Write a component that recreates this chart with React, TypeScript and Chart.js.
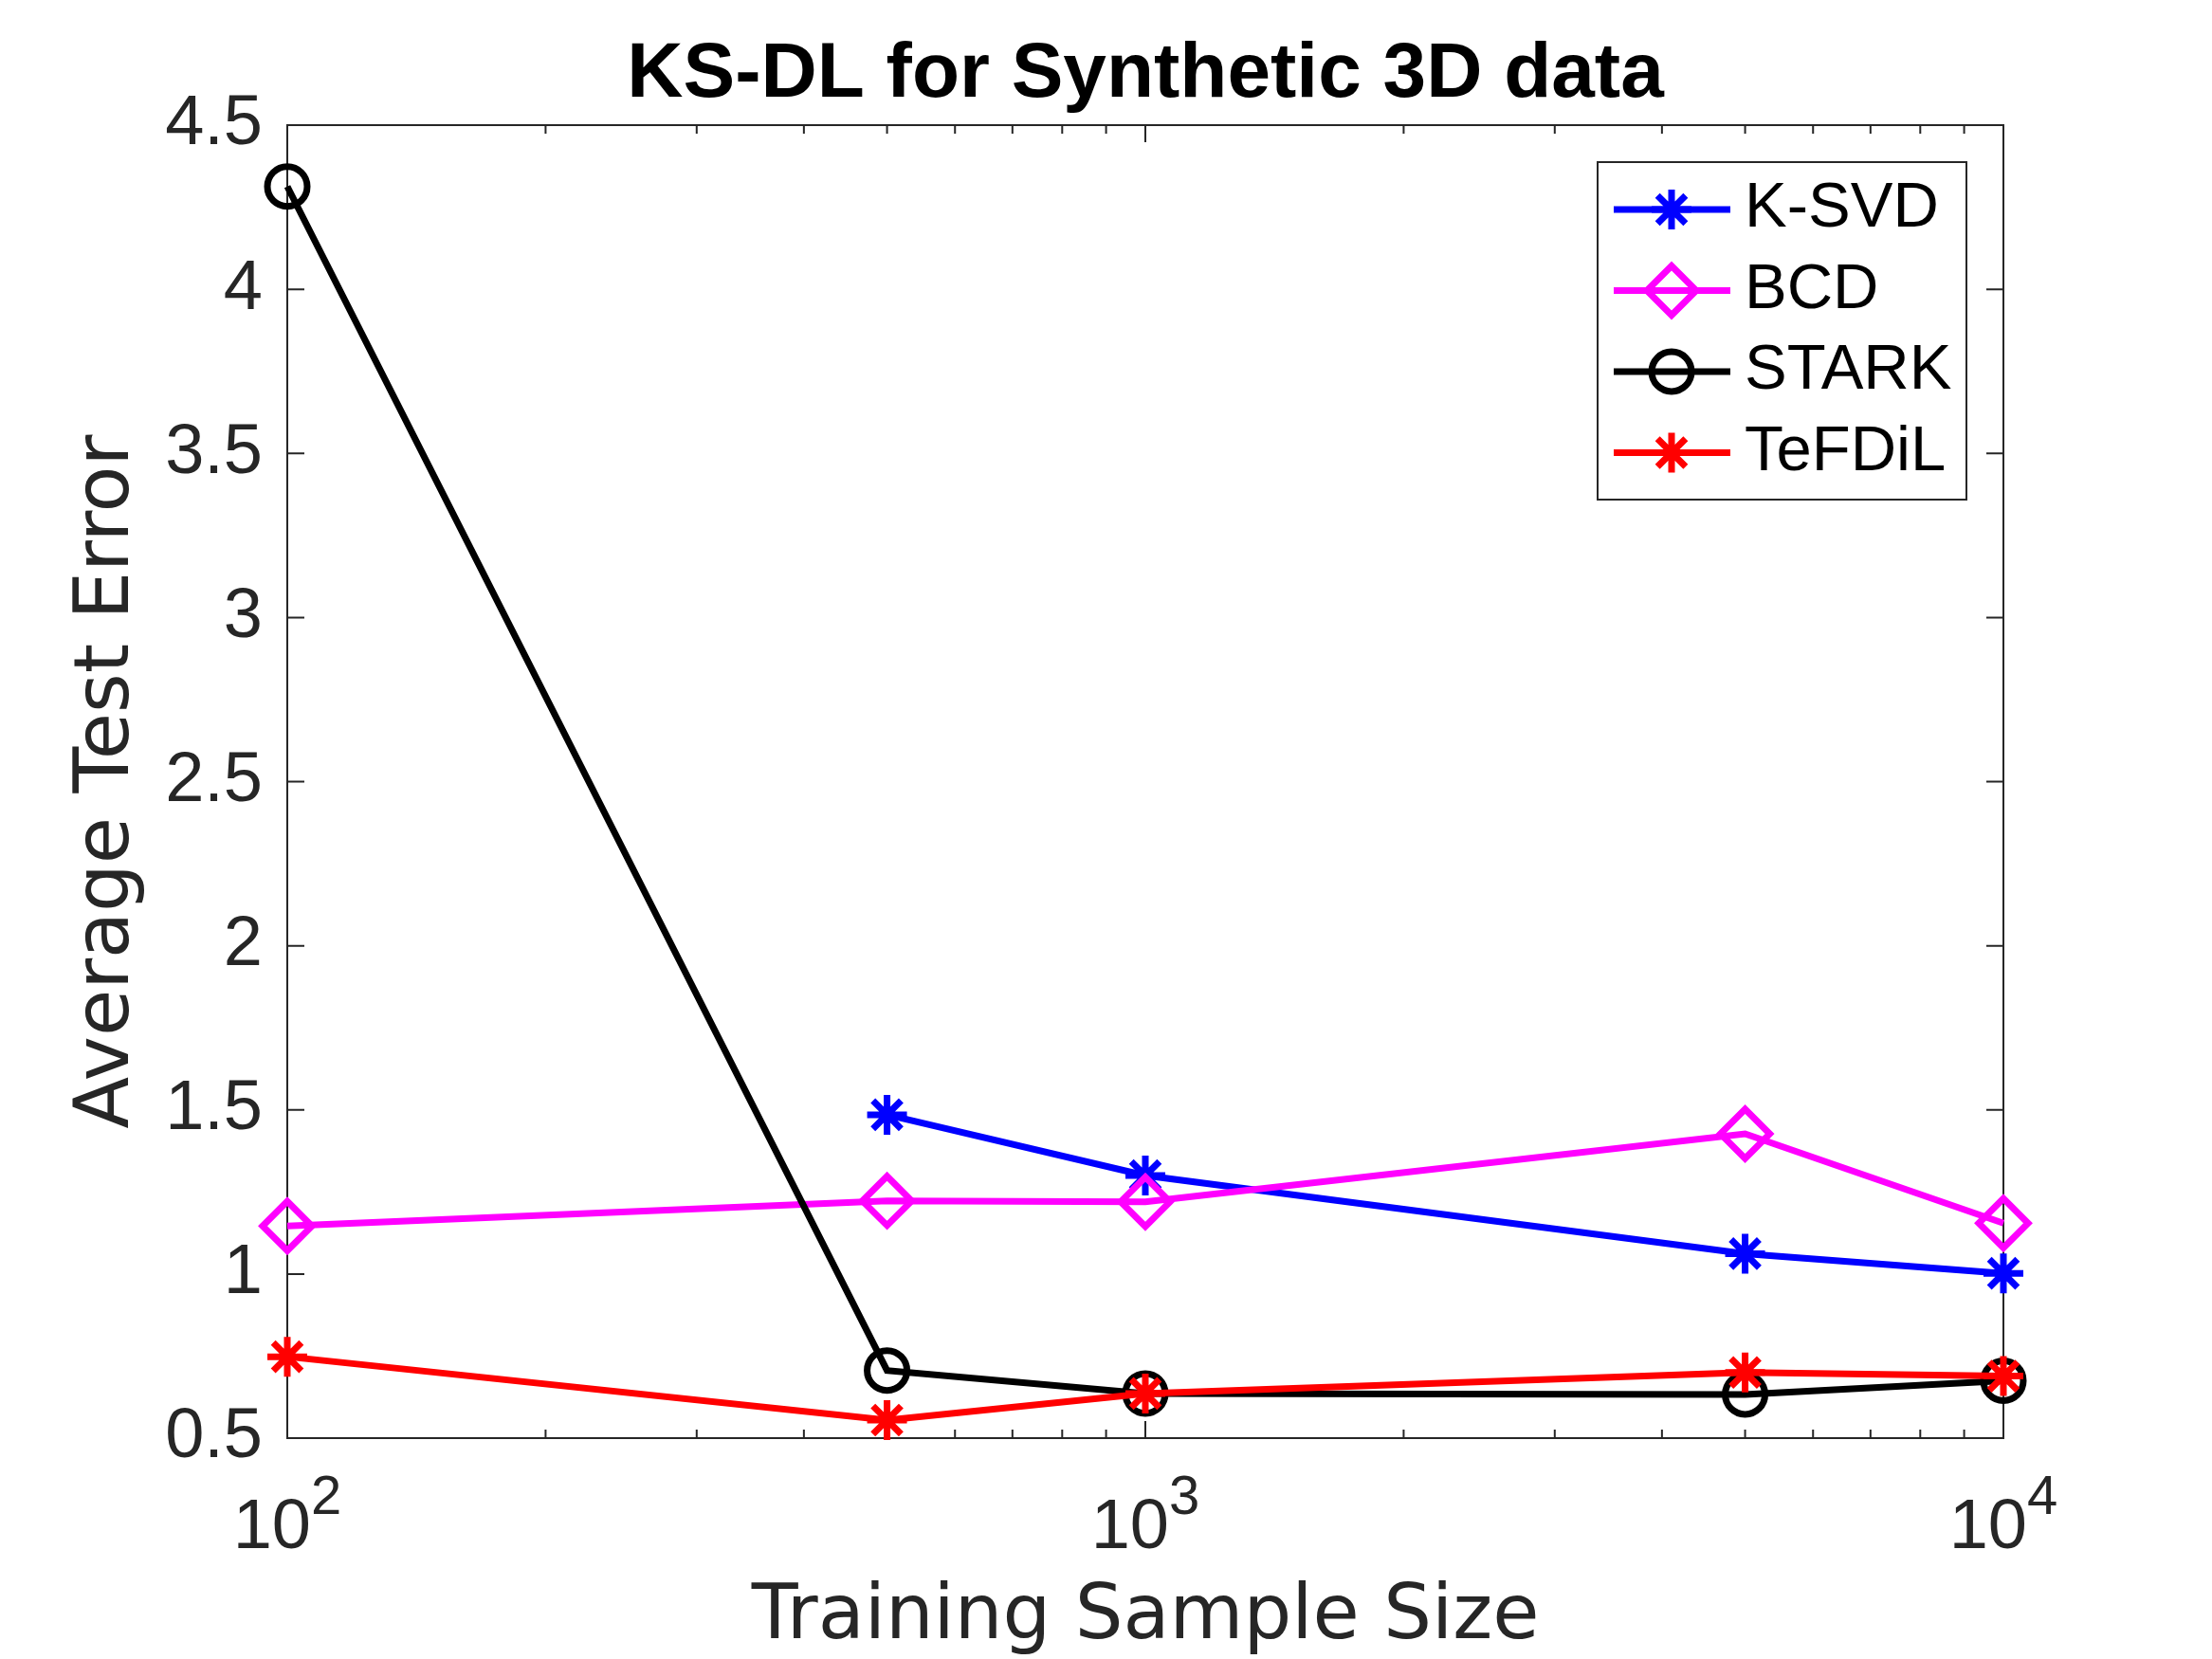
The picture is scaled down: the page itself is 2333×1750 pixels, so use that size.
import { useEffect, useRef } from "react";
import { Chart, registerables } from "chart.js";
import { drawPoint } from "chart.js/helpers";

Chart.register(...registerables);

const sampleSizes = [100, 500, 1000, 5000, 10000];
const ksvdError = [null, 1.485, 1.3, 1.062, 1.002];
const bcdError = [1.146, 1.223, 1.22, 1.427, 1.155];
const starkError = [4.313, 0.706, 0.636, 0.633, 0.675];
const tefdilError = [0.748, 0.555, 0.636, 0.7, 0.689];
const seriesLabels = ["K-SVD", "BCD", "STARK", "TeFDiL"];
const xTickExponents = [2, 3, 4];

const AXIS = "#262626";
const HELV = "'Liberation Sans', Arial, Helvetica, sans-serif";

const toPoints = (values: (number | null)[]) =>
  sampleSizes
    .map((x, i) => ({ x, y: values[i] }))
    .filter((p) => p.y !== null);

// box, inside ticks and 10^n labels, like a matlab axes
const framePlugin = {
  id: "matlabFrame",
  beforeDatasetsDraw(chart: any) {
    const { ctx, chartArea: a, scales } = chart;
    const xs = scales.x;
    const ys = scales.y;
    ctx.save();
    ctx.strokeStyle = AXIS;
    ctx.lineWidth = 2;
    ctx.strokeRect(a.left, a.top, a.right - a.left, a.bottom - a.top);

    ctx.beginPath();
    for (let e = xTickExponents[0]; e <= xTickExponents[xTickExponents.length - 1]; e++) {
      for (let k = 1; k <= 9; k++) {
        const v = k * Math.pow(10, e);
        if (v > xs.max) break;
        const px = xs.getPixelForValue(v);
        const len = k === 1 ? 18 : 9;
        ctx.moveTo(px, a.bottom);
        ctx.lineTo(px, a.bottom - len);
        ctx.moveTo(px, a.top);
        ctx.lineTo(px, a.top + len);
      }
    }
    for (const t of ys.ticks) {
      const py = ys.getPixelForValue(t.value);
      ctx.moveTo(a.left, py);
      ctx.lineTo(a.left + 18, py);
      ctx.moveTo(a.right, py);
      ctx.lineTo(a.right - 18, py);
    }
    ctx.stroke();

    ctx.fillStyle = AXIS;
    ctx.textBaseline = "alphabetic";
    ctx.textAlign = "left";
    for (const e of xTickExponents) {
      const px = xs.getPixelForValue(Math.pow(10, e));
      ctx.font = `74px ${HELV}`;
      const wBase = ctx.measureText("10").width;
      ctx.font = `58px ${HELV}`;
      const wExp = ctx.measureText(String(e)).width;
      const left = px - (wBase + wExp) / 2;
      ctx.font = `74px ${HELV}`;
      ctx.fillText("10", left, a.bottom + 116);
      ctx.font = `58px ${HELV}`;
      ctx.fillText(String(e), left + wBase, a.bottom + 80);
    }
    ctx.restore();
  },
  afterDatasetsDraw(chart: any) {
    const { ctx } = chart;
    const box = { left: 1685, top: 171, right: 2074, bottom: 527 };
    ctx.save();
    ctx.fillStyle = "#ffffff";
    ctx.fillRect(box.left, box.top, box.right - box.left, box.bottom - box.top);
    ctx.strokeStyle = AXIS;
    ctx.lineWidth = 2;
    ctx.strokeRect(box.left, box.top, box.right - box.left, box.bottom - box.top);
    chart.data.datasets.forEach((ds: any, i: number) => {
      const cy = 221 + i * 85.5;
      ctx.strokeStyle = ds.borderColor;
      ctx.lineWidth = ds.borderWidth;
      ctx.beginPath();
      ctx.moveTo(1702, cy);
      ctx.lineTo(1825, cy);
      ctx.stroke();
      ctx.fillStyle = "rgba(0,0,0,0)";
      ctx.lineWidth = ds.pointBorderWidth;
      drawPoint(
        ctx,
        { pointStyle: ds.pointStyle, radius: ds.pointRadius, rotation: 0, borderWidth: ds.pointBorderWidth } as any,
        1763,
        cy
      );
      ctx.fillStyle = "#000000";
      ctx.font = `67px ${HELV}`;
      ctx.textAlign = "left";
      ctx.textBaseline = "middle";
      ctx.fillText(ds.label, 1840, cy);
    });
    ctx.restore();
  },
};

const series = (label: string, values: (number | null)[], color: string, style: string, radius: number, order: number) => ({
  label,
  data: toPoints(values),
  borderColor: color,
  borderWidth: 7,
  pointStyle: style,
  pointRadius: radius,
  pointBorderWidth: 7,
  pointBorderColor: color,
  pointBackgroundColor: "rgba(0,0,0,0)",
  tension: 0,
  clip: false as const,
  order,
});

export default function App() {
  const canvasRef = useRef<HTMLCanvasElement | null>(null);

  useEffect(() => {
    if (!canvasRef.current) return;
    const chart = new Chart(canvasRef.current, {
      type: "line",
      data: {
        datasets: [
          series(seriesLabels[0], ksvdError, "#0000ff", "star", 21, 3),
          series(seriesLabels[1], bcdError, "#ff00ff", "rectRot", 26, 2),
          series(seriesLabels[2], starkError, "#000000", "circle", 21, 1),
          series(seriesLabels[3], tefdilError, "#ff0000", "star", 21, 0),
        ] as any,
      },
      options: {
        responsive: false,
        devicePixelRatio: 1,
        animation: false,
        events: [],
        layout: { padding: { left: 0, right: 220, top: 0, bottom: 0 } },
        plugins: {
          legend: { display: false },
          tooltip: { enabled: false },
          title: {
            display: true,
            fullSize: false,
            text: "KS-DL for Synthetic 3D data",
            color: "#000000",
            font: { family: HELV, size: 82, weight: "bold", lineHeight: 1.2 },
            padding: { top: 30, bottom: 3.6 },
          },
        },
        scales: {
          x: {
            type: "logarithmic",
            min: 100,
            max: 10000,
            grid: { display: false, drawTicks: false },
            border: { display: false },
            ticks: { display: false },
            title: {
              display: true,
              text: "Training Sample Size",
              color: AXIS,
              font: { family: "'DejaVu Sans', sans-serif", size: 80, lineHeight: 1 },
              padding: { top: 0, bottom: 3 },
            },
            afterFit: (scale: any) => {
              scale.height = 233;
            },
          },
          y: {
            min: 0.5,
            max: 4.5,
            grid: { display: false, drawTicks: false },
            border: { display: false },
            ticks: {
              stepSize: 0.5,
              padding: 26,
              color: AXIS,
              font: { family: HELV, size: 74 },
              callback: (v: any) => String(v),
            },
            title: {
              display: true,
              text: "Average Test Error",
              color: AXIS,
              font: { family: "'DejaVu Sans', sans-serif", size: 80, lineHeight: 1.2 },
              padding: { top: 66, bottom: 0 },
            },
            afterFit: (scale: any) => {
              scale.width = 303;
            },
          },
        },
      },
      plugins: [framePlugin],
    });
    return () => chart.destroy();
  }, []);

  return (
    <div style={{ position: "absolute", left: 0, top: 0, width: 2333, height: 1750, background: "#ffffff" }}>
      <canvas ref={canvasRef} width={2333} height={1750} style={{ width: 2333, height: 1750 }} />
    </div>
  );
}
